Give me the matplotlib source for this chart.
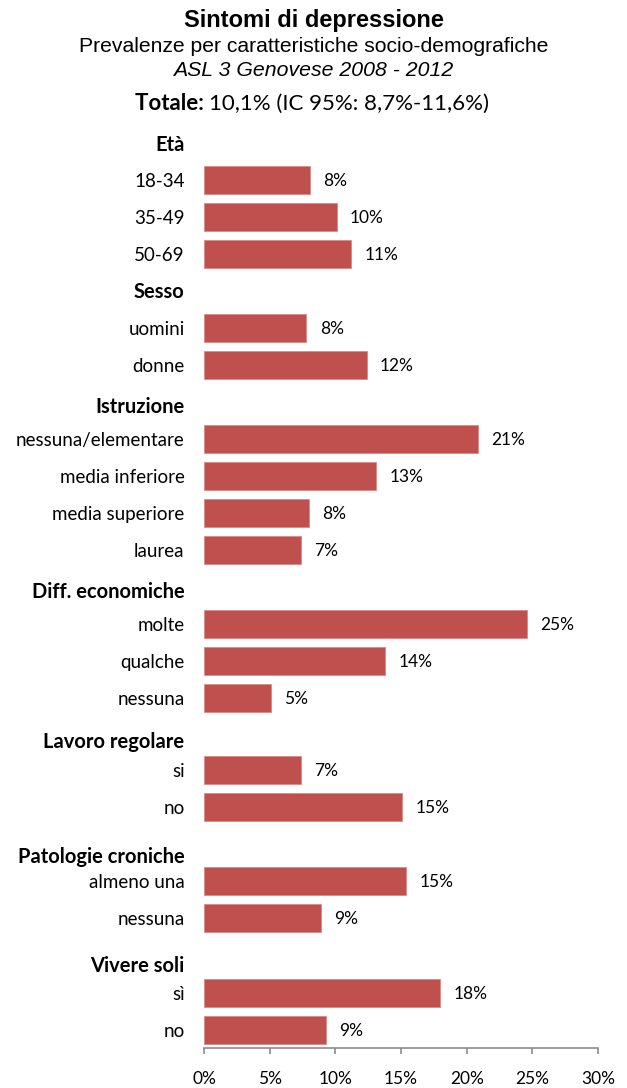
import matplotlib.pyplot as plt

# --- dati ---
groups = ['Età', 'Sesso', 'Istruzione', 'Diff. economiche',
          'Lavoro regolare', 'Patologie croniche', 'Vivere soli']
categories = [
    ['18-34', '35-49', '50-69'],
    ['uomini', 'donne'],
    ['nessuna/elementare', 'media inferiore', 'media superiore', 'laurea'],
    ['molte', 'qualche', 'nessuna'],
    ['si', 'no'],
    ['almeno una', 'nessuna'],
    ['sì', 'no'],
]
values = [
    [8.1, 10.1, 11.2],
    [7.8, 12.4],
    [20.9, 13.1, 8.0, 7.4],
    [24.6, 13.8, 5.1],
    [7.4, 15.1],
    [15.4, 8.9],
    [18.0, 9.3],
]
xticks = [0, 5, 10, 15, 20, 25, 30]

# --- layout (posizioni verticali in pixel della figura) ---
header_y = [145, 292, 407, 592, 742, 857, 966]
first_bar_y = [180, 328, 439, 624, 770, 881, 993]
step = 37

bar_color = '#C0504D'
body_font = ['Lato', 'DejaVu Sans']
W, H = 627, 1088

fig = plt.figure(figsize=(W / 100, H / 100), dpi=100)
ax = fig.add_axes([204 / W, 1 - 1048 / H, 394 / W, (1048 - 130) / H])

ylabels, ypos = [], []
for g, cats, vals, hy, y0 in zip(groups, categories, values, header_y, first_bar_y):
    ys = [y0 + i * step for i in range(len(cats))]
    ax.barh(ys, vals, height=28, color=bar_color, edgecolor='#D88A88', linewidth=0.6)
    for y, v in zip(ys, vals):
        ax.annotate(f'{round(v)}%', (v, y), xytext=(9.5, -1), textcoords='offset points',
                    va='center', ha='left', fontsize=12.5, family=body_font)
    ax.text(-0.05, hy, g, transform=ax.get_yaxis_transform(), ha='right', va='center',
            fontsize=14.5, fontweight='bold', family=body_font)
    ylabels += cats
    ypos += ys

ax.set_ylim(1048, 130)
ax.set_xlim(0, 30)
ax.set_yticks(ypos)
ax.set_yticklabels(ylabels, fontsize=13.5, family=body_font)
ax.tick_params(axis='y', length=0, pad=14)
ax.set_xticks(xticks)
ax.set_xticklabels([f'{t}%' for t in xticks], fontsize=12.5, family=body_font)
ax.tick_params(axis='x', length=4.5, width=1.2, color='#8C8C8C', pad=12, direction='out')
for s in ['top', 'right', 'left']:
    ax.spines[s].set_visible(False)
ax.spines['bottom'].set_color('#8C8C8C')
ax.spines['bottom'].set_linewidth(1.2)

# --- titoli ---
fig.text(0.5, 1 - 20 / H, 'Sintomi di depressione', ha='center', va='center',
         fontsize=17, fontweight='bold', family='Liberation Sans')
fig.text(0.5, 1 - 46 / H, 'Prevalenze per caratteristiche socio-demografiche',
         ha='center', va='center', fontsize=15.2, family='Liberation Sans')
fig.text(0.5, 1 - 70 / H, 'ASL 3 Genovese 2008 - 2012', ha='center', va='center',
         fontsize=15.3, style='italic', family='Liberation Sans')

# riga "Totale" centrata come blocco unico
t_bold = fig.text(0, 1 - 104 / H, 'Totale: ', ha='left', va='center',
                  fontsize=16, fontweight='bold', family=body_font)
t_norm = fig.text(0, 1 - 104 / H, '10,1% (IC 95%: 8,7%-11,6%)', ha='left', va='center',
                  fontsize=16, family=body_font)
r = fig.canvas.get_renderer()
w1 = t_bold.get_window_extent(r).width
w2 = t_norm.get_window_extent(r).width
x0 = 312 - (w1 + w2) / 2
t_bold.set_x(x0 / W)
t_norm.set_x((x0 + w1) / W)

fig.savefig('out.png', dpi=100)
